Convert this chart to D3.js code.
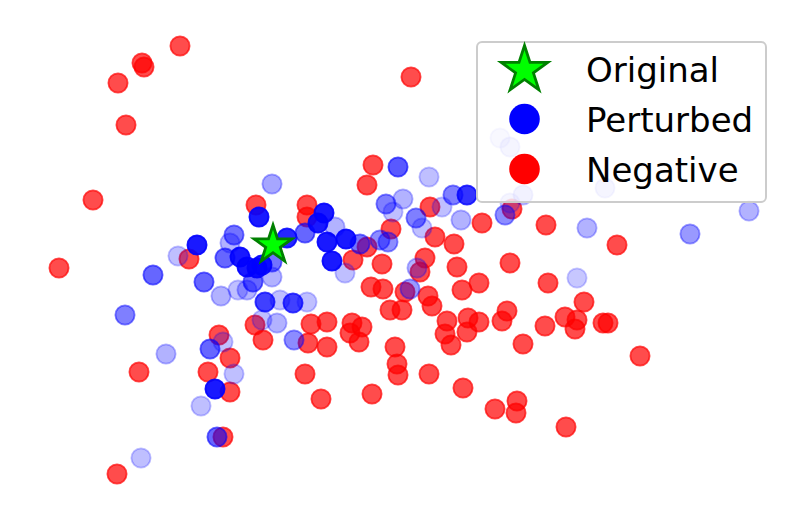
<!DOCTYPE html>
<html>
<head>
<meta charset="utf-8">
<script src="https://cdn.jsdelivr.net/npm/d3@7"></script>
<style>
  html, body { margin: 0; padding: 0; background: #ffffff; }
  svg { display: block; }
</style>
</head>
<body>
<svg id="chart" width="808" height="521"></svg>
<script>
// ---- Data (embedding coordinates) ----
const negX = [18.0,14.2,14.4,11.8,12.6,41.1,9.3,5.9,11.7,25.6,30.7,30.7,18.9,37.3,36.7,43.0,48.2,51.2,54.6,61.7,
  39.1,43.5,45.4,36.7,35.3,38.2,42.5,42.0,45.7,51.0,47.9,54.8,46.2,37.1,38.3,40.5,42.8,43.2,39.0,40.2,
  44.7,44.5,45.1,46.8,47.9,46.7,50.7,50.2,54.5,56.5,57.7,57.5,58.4,60.3,60.8,52.3,64.0,31.1,32.7,30.8,
  32.7,35.2,36.2,35.0,35.9,39.5,39.7,39.8,42.9,46.3,30.5,32.1,37.2,49.5,51.7,51.6,56.6,25.5,26.3,21.9,
  23.0,20.8,23.0,22.3,13.9];
const negY = [-4.6,-6.3,-6.7,-8.3,-12.5,-7.7,-20.0,-26.8,-47.4,-20.5,-20.5,-21.7,-25.9,-16.5,-18.5,-20.7,-22.3,-20.9,-22.5,-24.5,
  -22.9,-23.7,-24.4,-24.7,-26.0,-26.4,-25.8,-27.2,-26.7,-26.3,-28.3,-28.3,-29.0,-28.7,-28.9,-29.2,-29.6,-30.6,-31.0,-31.0,
  -32.1,-33.4,-34.5,-31.8,-32.2,-33.2,-31.1,-32.1,-32.6,-31.7,-32.0,-32.9,-30.2,-32.3,-32.3,-34.4,-35.6,-32.4,-32.2,-34.3,
  -34.7,-32.3,-32.7,-33.3,-34.2,-34.7,-36.4,-37.5,-37.4,-38.8,-37.4,-39.9,-39.4,-40.9,-40.1,-41.3,-42.7,-32.5,-34.0,-33.5,
  -35.8,-37.2,-39.2,-43.7,-37.2];

const pertX = [25.9,19.7,24.0,24.7,25.7,26.2,28.7,32.4,31.8,32.7,34.6,33.2,46.7,21.5,26.5,29.3,
  23.4,22.5,27.2,25.3,20.4,15.3,12.5,30.5,36.0,39.8,38.6,41.6,38.0,38.8,45.3,50.5,41.0,21.0,21.7,29.4,
  27.2,23.0,17.8,27.2,24.7,23.8,22.1,28.0,30.7,33.5,34.5,42.9,40.3,39.3,44.2,46.1,42.2,41.7,51.0,52.3,
  50.0,51.0,60.5,58.7,69.0,74.9,57.7,16.6,22.3,23.4,20.1,14.1,26.2,27.7];
const pertY = [-21.7,-24.5,-25.7,-26.7,-26.8,-26.5,-23.8,-21.3,-22.3,-24.2,-23.9,-26.1,-19.5,-38.9,-30.2,-30.3,
  -23.5,-25.8,-26.2,-28.2,-28.2,-27.5,-31.5,-23.3,-24.4,-16.7,-20.4,-21.8,-24.0,-24.2,-19.5,-21.5,-28.9,-34.9,-43.7,-34.0,
  -18.4,-24.3,-25.6,-27.7,-29.0,-29.0,-29.6,-30.0,-30.2,-22.7,-27.3,-17.7,-19.9,-21.2,-20.7,-22.0,-22.8,-26.8,-20.3,-19.5,
  -13.8,-14.7,-18.8,-22.8,-23.4,-21.1,-27.8,-35.4,-34.2,-37.4,-40.6,-45.8,-32.0,-32.3];
const pertW = [0.9,0.9,0.9,0.9,0.9,0.9,0.85,0.9,0.9,0.9,0.9,0.9,0.8,0.9,0.75,0.75,
  0.55,0.6,0.55,0.6,0.6,0.6,0.5,0.6,0.55,0.65,0.5,0.5,0.45,0.45,0.5,0.45,0.4,0.6,0.6,0.45,
  0.35,0.3,0.25,0.3,0.3,0.25,0.3,0.25,0.25,0.3,0.25,0.25,0.3,0.25,0.25,0.3,0.25,0.3,0.2,0.25,
  0.15,0.2,0.2,0.3,0.4,0.3,0.22,0.3,0.25,0.25,0.25,0.25,0.25,0.3];

const origX = [27.3];
const origY = [-24.5];

const legendLabels = ["Original", "Perturbed", "Negative"];

// ---- Scales ----
const W = 808, H = 521;
const x = d3.scaleLinear().domain([0, 80.8]).range([0, W]);
const y = d3.scaleLinear().domain([-52.1, 0]).range([H, 0]);

const svg = d3.select("#chart");
svg.append("rect").attr("width", W).attr("height", H).attr("fill", "#ffffff");

const R = 9.6;

// Negative points
const negData = negX.map((v, i) => ({ x: v, y: negY[i] }));
svg.append("g").selectAll("circle").data(negData).join("circle")
  .attr("cx", d => x(d.x)).attr("cy", d => y(d.y)).attr("r", R)
  .attr("fill", "#ff0000").attr("fill-opacity", 0.7)
  .attr("stroke", "#ff0000").attr("stroke-opacity", 0.7).attr("stroke-width", 1.8);

// Perturbed points
const pertData = pertX.map((v, i) => ({ x: v, y: pertY[i], w: pertW[i] }));
svg.append("g").selectAll("circle").data(pertData).join("circle")
  .attr("cx", d => x(d.x)).attr("cy", d => y(d.y)).attr("r", R)
  .attr("fill", "#0000ff").attr("fill-opacity", d => d.w)
  .attr("stroke", "#0000ff").attr("stroke-opacity", d => d.w).attr("stroke-width", 1.8);

// Original star
const starPath = d3.symbol(d3.symbolStar, 449);
svg.append("g").selectAll("path").data(origX.map((v, i) => ({ x: v, y: origY[i] }))).join("path")
  .attr("d", starPath)
  .attr("transform", d => `translate(${x(d.x)},${y(d.y)})`)
  .attr("fill", "#00ff00").attr("stroke", "#008000").attr("stroke-width", 2.8)
  .attr("stroke-linejoin", "miter");

// ---- Legend ----
const lg = svg.append("g").attr("transform", "translate(477,42)");
lg.append("rect").attr("width", 289).attr("height", 160).attr("rx", 5).attr("ry", 5)
  .attr("fill", "#ffffff").attr("fill-opacity", 0.8)
  .attr("stroke", "#cccccc").attr("stroke-width", 2);

const rowY = [27, 77, 127];
lg.append("path").attr("d", d3.symbol(d3.symbolStar, 674))
  .attr("transform", `translate(47.5,${rowY[0] + 1})`)
  .attr("fill", "#00ff00").attr("stroke", "#008000").attr("stroke-width", 2.8);
lg.append("circle").attr("cx", 47.5).attr("cy", rowY[1]).attr("r", 15.3).attr("fill", "#0000ff");
lg.append("circle").attr("cx", 47.5).attr("cy", rowY[2]).attr("r", 15.3).attr("fill", "#ff0000");

lg.selectAll("text").data(legendLabels).join("text")
  .attr("x", 109).attr("y", (d, i) => rowY[i] + 12.5)
  .attr("font-family", "DejaVu Sans, sans-serif").attr("font-size", 34)
  .attr("fill", "#000000")
  .text(d => d);
</script>
</body>
</html>
